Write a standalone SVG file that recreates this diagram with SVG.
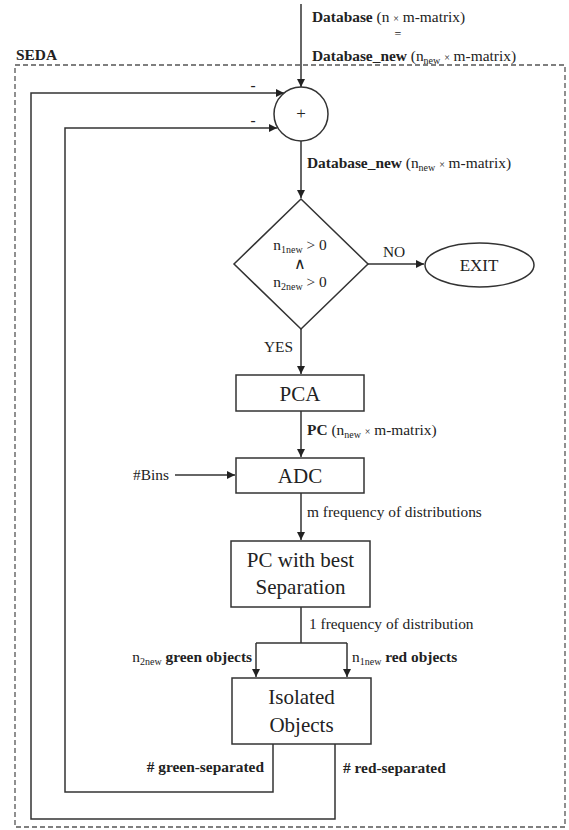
<svg xmlns="http://www.w3.org/2000/svg" width="569" height="830" viewBox="0 0 569 830">
<style>
text{font-family:"Liberation Serif","Times New Roman",serif;fill:#222;}
.lbl{font-size:15.4px;}
.b{font-weight:bold;}
.sub{font-size:10px;}
.big{font-size:21px;}
.shape{fill:#fff;stroke:#333;stroke-width:1.5;}
.ln{fill:none;stroke:#333;stroke-width:1.5;}
.arr{marker-end:url(#ah);}
</style>
<defs>
<marker id="ah" viewBox="0 0 10 10" refX="10" refY="5" markerWidth="9" markerHeight="8" orient="auto" markerUnits="userSpaceOnUse">
<path d="M0,0 L10,5 L0,10 z" fill="#222"/>
</marker>
</defs>
<rect id="seda-frame" x="15" y="65" width="550" height="762" fill="none" stroke="#555" stroke-width="1.3" stroke-dasharray="5,3"/>
<text class="lbl b" x="16" y="60">SEDA</text>
<g id="connectors">
<path class="ln arr" d="M301,4 V87"/>
<path class="ln arr" d="M301,141 V198"/>
<path class="ln arr" d="M368,264 H424"/>
<path class="ln arr" d="M301,329 V374"/>
<path class="ln arr" d="M301,411 V457"/>
<path class="ln arr" d="M175,475 H235"/>
<path class="ln arr" d="M301,493 V540"/>
<path class="ln" d="M301,607 V643 M256,643 H347"/>
<path class="ln arr" d="M256,643 V677"/>
<path class="ln arr" d="M347,643 V677"/>
<path class="ln arr" d="M273,744 V792 H65 V128 H277"/>
<path class="ln arr" d="M335,744 V819 H31 V93 H284"/>
</g>
<g id="labels">
<text class="lbl" x="312" y="22"><tspan class="b">Database</tspan> (n <tspan class="sub">×</tspan> m-matrix)</text>
<text class="lbl" x="398" y="38" text-anchor="middle" style="font-size:12px">=</text>
<text class="lbl" x="312" y="61"><tspan class="b">Database_new</tspan> (n<tspan class="sub" dy="3">new</tspan><tspan dy="-3"> </tspan><tspan class="sub">×</tspan> m-matrix)</text>
<text class="lbl b" x="253" y="90" text-anchor="middle">-</text>
<text class="lbl b" x="253" y="125" text-anchor="middle">-</text>
<text class="lbl" x="307" y="168"><tspan class="b">Database_new</tspan> (n<tspan class="sub" dy="3">new</tspan><tspan dy="-3"> </tspan><tspan class="sub">×</tspan> m-matrix)</text>
<text class="lbl" x="394" y="257" text-anchor="middle">NO</text>
<text class="lbl" x="293" y="352" text-anchor="end">YES</text>
<text class="lbl" x="307" y="435"><tspan class="b">PC</tspan> (n<tspan class="sub" dy="3">new</tspan><tspan dy="-3"> </tspan><tspan class="sub">×</tspan> m-matrix)</text>
<text class="lbl" x="133" y="480">#Bins</text>
<text class="lbl" x="307" y="517">m frequency of distributions</text>
<text class="lbl" x="309" y="629">1 frequency of distribution</text>
<text class="lbl" x="252" y="662" text-anchor="end">n<tspan class="sub" dy="3">2new</tspan><tspan dy="-3" class="b"> green objects</tspan></text>
<text class="lbl" x="352" y="662">n<tspan class="sub" dy="3">1new</tspan><tspan dy="-3" class="b"> red objects</tspan></text>
<text class="lbl b" x="264" y="772" text-anchor="end"># green-separated</text>
<text class="lbl b" x="343" y="773"># red-separated</text>
</g>
<g id="sum">
<circle class="shape" cx="301" cy="114" r="27"/>
<text class="lbl" x="301" y="119" text-anchor="middle" style="font-size:17px">+</text>
</g>
<g id="decision">
<polygon class="shape" points="301,199 368,264 301,329 234,264"/>
<text class="lbl" x="300" y="250" text-anchor="middle">n<tspan class="sub" dy="3">1new</tspan><tspan dy="-3"> &gt; 0</tspan></text>
<text class="lbl" x="300" y="269" text-anchor="middle" style="font-size:16px">∧</text>
<text class="lbl" x="300" y="287" text-anchor="middle">n<tspan class="sub" dy="3">2new</tspan><tspan dy="-3"> &gt; 0</tspan></text>
</g>
<g id="exit">
<ellipse class="shape" cx="479.5" cy="265" rx="54.5" ry="22"/>
<text x="479" y="271" text-anchor="middle" style="font-size:17px">EXIT</text>
</g>
<g id="pca">
<rect class="shape" x="236" y="375" width="128" height="36"/>
<text class="big" x="300" y="401" text-anchor="middle">PCA</text>
</g>
<g id="adc">
<rect class="shape" x="236" y="458" width="128" height="35"/>
<text class="big" x="300" y="483" text-anchor="middle">ADC</text>
</g>
<g id="best-pc">
<rect class="shape" x="231" y="541" width="139" height="66"/>
<text class="big" x="300.5" y="567" text-anchor="middle">PC with best</text>
<text class="big" x="300.5" y="594" text-anchor="middle">Separation</text>
</g>
<g id="isolated">
<rect class="shape" x="232" y="678" width="139" height="66"/>
<text class="big" x="301.5" y="704" text-anchor="middle">Isolated</text>
<text class="big" x="301.5" y="732" text-anchor="middle">Objects</text>
</g>
</svg>
